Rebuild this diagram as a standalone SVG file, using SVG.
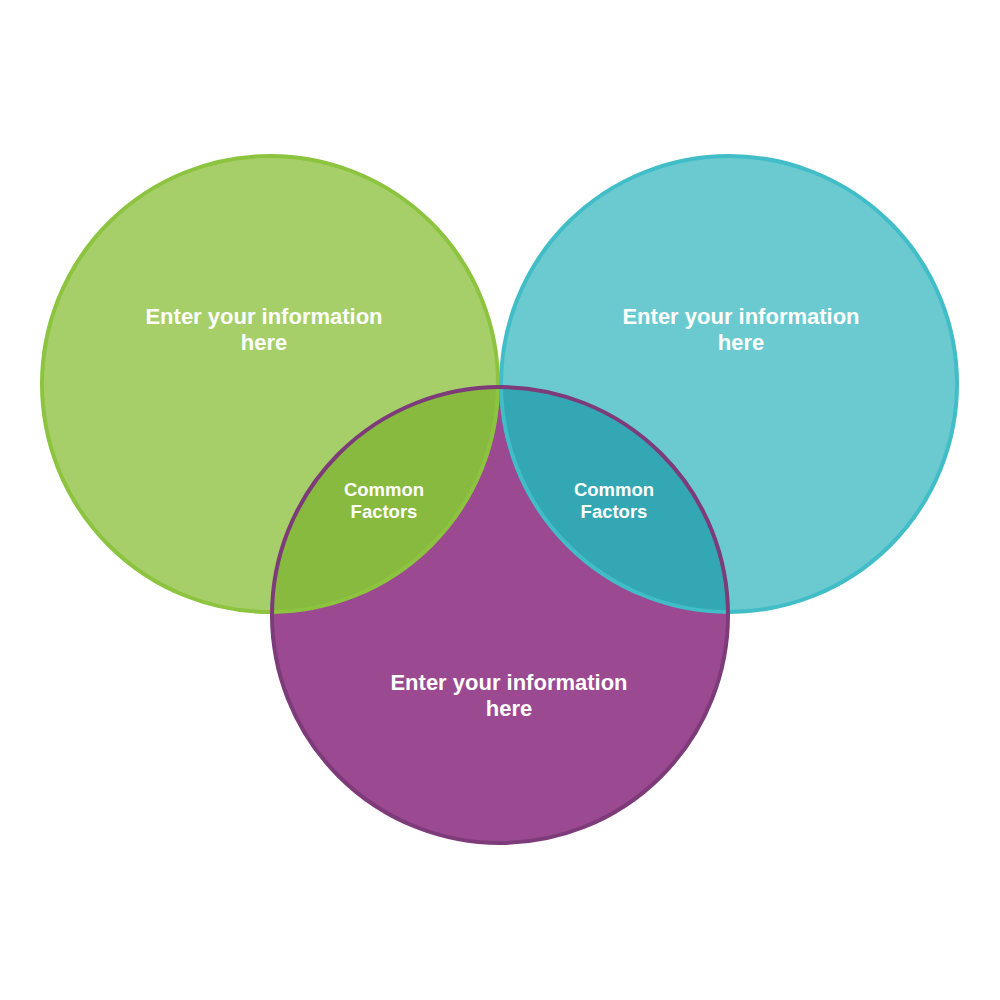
<svg xmlns="http://www.w3.org/2000/svg" width="1000" height="1000" viewBox="0 0 1000 1000">
<style>
.t{font-family:"Liberation Sans",Arial,sans-serif;font-weight:bold;fill:#ffffff;text-anchor:middle}
.big{font-size:22px}
.sm{font-size:18.5px}
</style>
<defs>
<clipPath id="cpPurple"><circle cx="500" cy="615" r="228"/></clipPath>
</defs>
<rect width="1000" height="1000" fill="#ffffff"/>
<g id="circle-green">
<circle cx="270" cy="384" r="228" fill="#a6cf6a" stroke="#8cc43f" stroke-width="4"/>
</g>
<g id="circle-teal">
<circle cx="729" cy="384" r="228" fill="#6bcad0" stroke="#41bdc8" stroke-width="4"/>
</g>
<g id="circle-purple">
<circle cx="500" cy="615" r="228" fill="#9b4990"/>
</g>
<g id="lens-green" clip-path="url(#cpPurple)">
<circle cx="270" cy="384" r="228" fill="#87ba3e" stroke="#8cc43f" stroke-width="4"/>
</g>
<g id="lens-teal" clip-path="url(#cpPurple)">
<circle cx="729" cy="384" r="228" fill="#33a8b4" stroke="#41bdc8" stroke-width="4"/>
</g>
<g id="purple-outline">
<circle cx="500" cy="615" r="228" fill="none" stroke="#7d3b7a" stroke-width="4"/>
</g>
<g id="labels">
<text class="t big" x="264" y="324">Enter your information</text>
<text class="t big" x="264" y="350">here</text>
<text class="t big" x="741" y="324">Enter your information</text>
<text class="t big" x="741" y="350">here</text>
<text class="t big" x="509" y="690">Enter your information</text>
<text class="t big" x="509" y="716">here</text>
<text class="t sm" x="384" y="496">Common</text>
<text class="t sm" x="384" y="518">Factors</text>
<text class="t sm" x="614" y="496">Common</text>
<text class="t sm" x="614" y="518">Factors</text>
</g>
</svg>
